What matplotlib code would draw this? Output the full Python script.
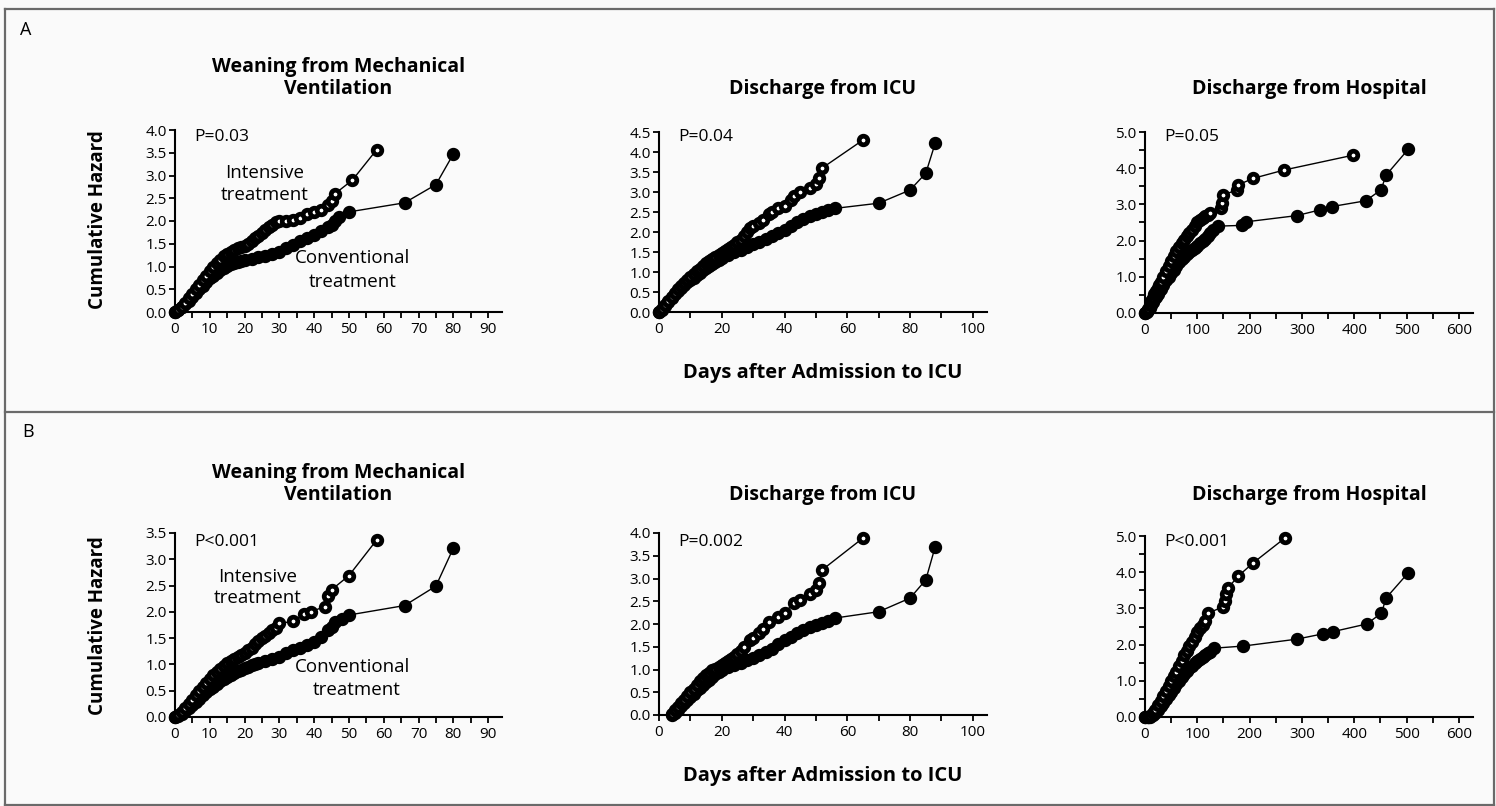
import matplotlib
matplotlib.use("Agg")
import matplotlib.pyplot as plt
from matplotlib.ticker import MultipleLocator, FormatStrFormatter
from matplotlib.lines import Line2D

plt.rcParams['font.family'] = ['Open Sans', 'DejaVu Sans']

# ---------------- data ----------------
# Panel A (all patients) - Weaning from mechanical ventilation
a_wean_int_x = [0,1,2,3,4,5,6,7,8,9,10,11,12,13,14,15,16,17,18,19,20,21,22,23,24,25,26,27,28,29,30,32,34,36,38,40,42,44,45,46,51,58]
a_wean_int_y = [0,0.05,0.12,0.2,0.3,0.4,0.5,0.6,0.7,0.8,0.9,1.0,1.08,1.15,1.22,1.28,1.32,1.36,1.4,1.43,1.46,1.5,1.55,1.62,1.68,1.74,1.8,1.86,1.92,1.98,2.0,2.0,2.03,2.06,2.15,2.2,2.25,2.35,2.45,2.6,2.9,3.57]
a_wean_con_x = [0,1,2,3,4,5,6,7,8,9,10,11,12,13,14,15,16,17,18,19,20,22,24,26,28,30,32,34,36,38,40,42,44,45,46,47,50,66,75,80]
a_wean_con_y = [0,0.04,0.1,0.17,0.25,0.33,0.42,0.5,0.58,0.66,0.74,0.8,0.86,0.92,0.97,1.02,1.05,1.08,1.1,1.12,1.14,1.17,1.2,1.23,1.27,1.32,1.4,1.48,1.56,1.63,1.7,1.78,1.86,1.92,2.0,2.08,2.2,2.4,2.8,3.47]

# Panel A - Discharge from ICU
a_icu_int_x = [0,1,2,3,4,5,6,7,8,9,10,11,12,13,14,15,16,17,18,19,20,21,22,23,24,25,26,27,28,29,30,32,33,35,36,38,40,42,43,45,48,50,51,52,65]
a_icu_int_y = [0,0.07,0.17,0.28,0.38,0.48,0.57,0.65,0.73,0.8,0.88,0.95,1.02,1.08,1.15,1.22,1.28,1.33,1.38,1.43,1.48,1.53,1.58,1.63,1.68,1.74,1.8,1.9,2.0,2.1,2.15,2.22,2.3,2.45,2.5,2.6,2.65,2.8,2.9,3.0,3.1,3.2,3.35,3.6,4.3]
a_icu_con_x = [0,1,2,3,4,5,6,7,8,9,10,11,12,13,14,15,16,17,18,19,20,22,24,26,28,30,32,34,36,38,40,42,44,46,48,50,52,54,56,70,80,85,88]
a_icu_con_y = [0,0.06,0.15,0.25,0.35,0.45,0.53,0.6,0.67,0.74,0.8,0.86,0.92,0.98,1.04,1.1,1.15,1.2,1.25,1.3,1.35,1.42,1.5,1.56,1.63,1.7,1.76,1.83,1.9,1.97,2.05,2.15,2.25,2.32,2.4,2.45,2.5,2.55,2.59,2.72,3.05,3.47,4.22]

# Panel A - Discharge from hospital
a_hosp_int_x = [0,3,6,9,12,15,18,21,24,27,30,35,40,45,50,55,60,65,70,75,80,85,90,95,100,105,110,115,120,124,145,147,150,175,178,207,266,398]
a_hosp_int_y = [0,0.05,0.12,0.22,0.32,0.42,0.52,0.61,0.7,0.78,0.86,1.0,1.15,1.3,1.45,1.58,1.7,1.82,1.93,2.03,2.12,2.2,2.3,2.4,2.5,2.56,2.62,2.67,2.72,2.75,2.9,3.03,3.26,3.4,3.54,3.72,3.95,4.36]
a_hosp_con_x = [0,3,6,9,12,15,18,21,24,27,30,35,40,45,50,55,60,65,70,75,80,85,90,95,100,105,110,115,120,125,130,140,185,194,290,335,357,422,451,461,503]
a_hosp_con_y = [0,0.03,0.08,0.15,0.22,0.3,0.38,0.45,0.52,0.6,0.67,0.78,0.9,1.0,1.1,1.2,1.3,1.4,1.48,1.55,1.62,1.68,1.74,1.8,1.86,1.92,1.98,2.05,2.12,2.2,2.3,2.4,2.42,2.52,2.69,2.85,2.94,3.1,3.4,3.81,4.52]

# Panel B - Weaning from mechanical ventilation
b_wean_int_x = [0,1,2,3,4,5,6,7,8,9,10,11,12,13,14,15,16,17,18,19,20,21,22,23,24,25,26,27,28,29,30,34,37,39,43,44,45,50,58]
b_wean_int_y = [0,0.04,0.1,0.17,0.25,0.33,0.41,0.49,0.57,0.65,0.73,0.8,0.86,0.92,0.97,1.02,1.06,1.1,1.14,1.18,1.22,1.27,1.32,1.38,1.44,1.5,1.55,1.6,1.65,1.7,1.78,1.82,1.95,2.0,2.1,2.3,2.42,2.69,3.37]
b_wean_con_x = [0,1,2,3,4,5,6,7,8,9,10,11,12,13,14,15,16,17,18,19,20,21,22,23,24,26,28,30,32,34,36,38,40,42,44,45,46,48,50,66,75,80]
b_wean_con_y = [0,0.02,0.06,0.11,0.17,0.23,0.29,0.35,0.41,0.47,0.53,0.58,0.63,0.68,0.72,0.76,0.8,0.84,0.87,0.9,0.93,0.96,0.98,1.0,1.02,1.06,1.1,1.15,1.21,1.27,1.32,1.37,1.43,1.52,1.65,1.72,1.8,1.87,1.94,2.12,2.49,3.21]

# Panel B - Discharge from ICU
b_icu_int_x = [4,5,6,7,8,9,10,11,12,13,14,15,16,17,18,19,20,21,22,23,24,25,26,27,29,30,32,33,35,38,40,43,45,48,50,51,52,65]
b_icu_int_y = [0.02,0.1,0.18,0.26,0.34,0.42,0.5,0.58,0.66,0.74,0.82,0.88,0.93,0.98,1.02,1.06,1.1,1.14,1.18,1.22,1.27,1.33,1.4,1.5,1.65,1.7,1.8,1.9,2.05,2.15,2.24,2.47,2.53,2.65,2.75,2.9,3.19,3.89]
b_icu_con_x = [4,5,6,7,8,9,10,11,12,13,14,15,16,17,18,19,20,22,24,26,28,30,32,34,36,38,40,42,44,46,48,50,52,54,56,70,80,85,88]
b_icu_con_y = [0,0.05,0.12,0.19,0.26,0.33,0.4,0.47,0.54,0.6,0.66,0.72,0.78,0.84,0.9,0.95,1.0,1.06,1.1,1.15,1.2,1.25,1.32,1.38,1.45,1.55,1.65,1.72,1.8,1.87,1.93,1.98,2.02,2.07,2.13,2.27,2.57,2.97,3.7]

# Panel B - Discharge from hospital
b_hosp_int_x = [0,5,10,15,20,25,30,35,40,45,50,55,60,65,70,75,80,85,90,95,100,105,110,115,121,150,152,155,159,178,207,268]
b_hosp_int_y = [0,0,0.02,0.1,0.2,0.32,0.45,0.58,0.72,0.86,1.0,1.12,1.25,1.4,1.55,1.7,1.82,1.95,2.08,2.2,2.35,2.45,2.55,2.65,2.87,3.05,3.2,3.4,3.57,3.89,4.26,4.95]
b_hosp_con_x = [0,5,10,15,20,25,30,35,40,45,50,55,60,65,70,75,80,85,90,95,100,105,110,115,120,124,131,188,290,341,360,424,452,461,503]
b_hosp_con_y = [0,0,0.01,0.05,0.12,0.2,0.3,0.4,0.5,0.6,0.7,0.8,0.9,1.0,1.1,1.18,1.26,1.34,1.42,1.48,1.54,1.6,1.65,1.7,1.76,1.8,1.9,1.96,2.15,2.3,2.36,2.57,2.87,3.29,3.98]

titles = [["Weaning from Mechanical", "Ventilation"], ["Discharge from ICU"], ["Discharge from Hospital"]]
p_values_a = ["P=0.03", "P=0.04", "P=0.05"]
p_values_b = ["P<0.001", "P=0.002", "P<0.001"]
panel_letters = ["A", "B"]
ylabel = "Cumulative Hazard"
xlabel = "Days after Admission to ICU"

W, H = 1496, 806
def fx(px):
    return px / W
def fy(py):
    return 1 - py / H

bg = '#fafafa'
fig = plt.figure(figsize=(W / 100, H / 100), dpi=100, facecolor=bg)

# frame lines
frame_col = '#6a6a6a'
for (x0, y0, x1, y1) in [(5, 9, 1494, 9), (5, 9, 5, 805), (1494, 9, 1494, 805),
                         (5, 805, 1494, 805), (5, 412, 1494, 412)]:
    fig.add_artist(Line2D([fx(x0), fx(x1)], [fy(y0), fy(y1)], color=frame_col, lw=1.6))

# axes geometry: (left px, right px, bottom px, top px)
geom_a = [(175, 502, 312, 130), (659, 987, 312, 132), (1145, 1473, 313, 132)]
geom_b = [(175, 502, 717, 533), (659, 987, 715, 533), (1145, 1473, 717, 536)]
xlims = [(0, 94), (0, 104.5), (0, 627)]
ylims_a = [(0, 4.0), (0, 4.5), (0, 5.0)]
ylims_b = [(0, 3.5), (0, 4.0), (0, 5.0)]
xmaj = [10, 20, 100]
xmin = [5, 10, 50]
ymaj = [0.5, 0.5, 1.0]
ymin = [0.5, 0.5, 0.5]
yfmt = ['%.1f', '%.1f', '%.1f']

data_a = [(a_wean_int_x, a_wean_int_y, a_wean_con_x, a_wean_con_y),
          (a_icu_int_x, a_icu_int_y, a_icu_con_x, a_icu_con_y),
          (a_hosp_int_x, a_hosp_int_y, a_hosp_con_x, a_hosp_con_y)]
data_b = [(b_wean_int_x, b_wean_int_y, b_wean_con_x, b_wean_con_y),
          (b_icu_int_x, b_icu_int_y, b_icu_con_x, b_icu_con_y),
          (b_hosp_int_x, b_hosp_int_y, b_hosp_con_x, b_hosp_con_y)]

def make_axes(g, xl, yl, i):
    l, r, b, t = g
    ax = fig.add_axes([fx(l), fy(b), fx(r) - fx(l), fy(t) - fy(b)])
    ax.set_facecolor('none')
    ax.set_xlim(*xl)
    ax.set_ylim(*yl)
    for s in ['top', 'right']:
        ax.spines[s].set_visible(False)
    for s in ['left', 'bottom']:
        ax.spines[s].set_linewidth(1.5)
    ax.xaxis.set_major_locator(MultipleLocator(xmaj[i]))
    ax.xaxis.set_minor_locator(MultipleLocator(xmin[i]))
    ax.yaxis.set_major_locator(MultipleLocator(ymaj[i]))
    ax.yaxis.set_minor_locator(MultipleLocator(ymin[i]))
    ax.yaxis.set_major_formatter(FormatStrFormatter(yfmt[i]))
    ax.tick_params(which='both', direction='out', length=4.5, width=1.3, labelsize=11, pad=1.5)
    ax.tick_params(axis='x', pad=3)
    xt = [v for v in range(0, int(xl[1]) + 1, xmaj[i])]
    ax.set_xticks(xt)
    return ax

def draw(ax, d):
    ix, iy, cx, cy = d
    ax.plot(cx, cy, '-', color='black', lw=1.0, marker='o', ms=6.2, mfc='black',
            mec='black', mew=3.4, clip_on=False, zorder=3)
    ax.plot(ix, iy, '-', color='black', lw=1.0, marker='o', ms=6.2, mfc='white',
            mec='black', mew=3.4, clip_on=False, zorder=4)

for row, (geoms, ylims, datas, pvals) in enumerate([(geom_a, ylims_a, data_a, p_values_a),
                                                    (geom_b, ylims_b, data_b, p_values_b)]):
    for i in range(3):
        ax = make_axes(geoms[i], xlims[i], ylims[i], i)
        draw(ax, datas[i])
        l, r, b, t = geoms[i]
        cxp = (l + r) / 2
        # title
        base = 94 if row == 0 else 500
        lines = titles[i]
        for k, line in enumerate(lines):
            yb = base - 22 * (len(lines) - 1 - k)
            fig.text(fx(cxp), fy(yb), line, ha='center', va='baseline',
                     fontsize=14, fontweight='bold')
        # p value
        py = 137 if row == 0 else 542
        fig.text(fx(l + 19), fy(py), pvals[i], ha='left', va='center', fontsize=12.5)

    # y label
    yc = 220 if row == 0 else 626
    fig.text(fx(98), fy(yc), ylabel, rotation=90, ha='center', va='center',
             fontsize=13.5, fontweight='bold')
    # x label
    xc_y = 373 if row == 0 else 776
    fig.text(fx(823), fy(xc_y), xlabel, ha='center', va='center', fontsize=14.5, fontweight='bold')

# panel letters
fig.text(fx(26), fy(30), panel_letters[0], ha='center', va='center', fontsize=13)
fig.text(fx(28), fy(432), panel_letters[1], ha='center', va='center', fontsize=13)

# group annotations
ann = [
    ("Intensive", 265, 173), ("treatment", 265, 195),
    ("Conventional", 353, 258), ("treatment", 353, 282),
    ("Intensive", 258, 577), ("treatment", 258, 598),
    ("Conventional", 353, 667), ("treatment", 357, 690),
]
for txt, x, y in ann:
    fig.text(fx(x), fy(y), txt, ha='center', va='center', fontsize=13.5)

fig.savefig('out.png', dpi=100, facecolor=bg)
